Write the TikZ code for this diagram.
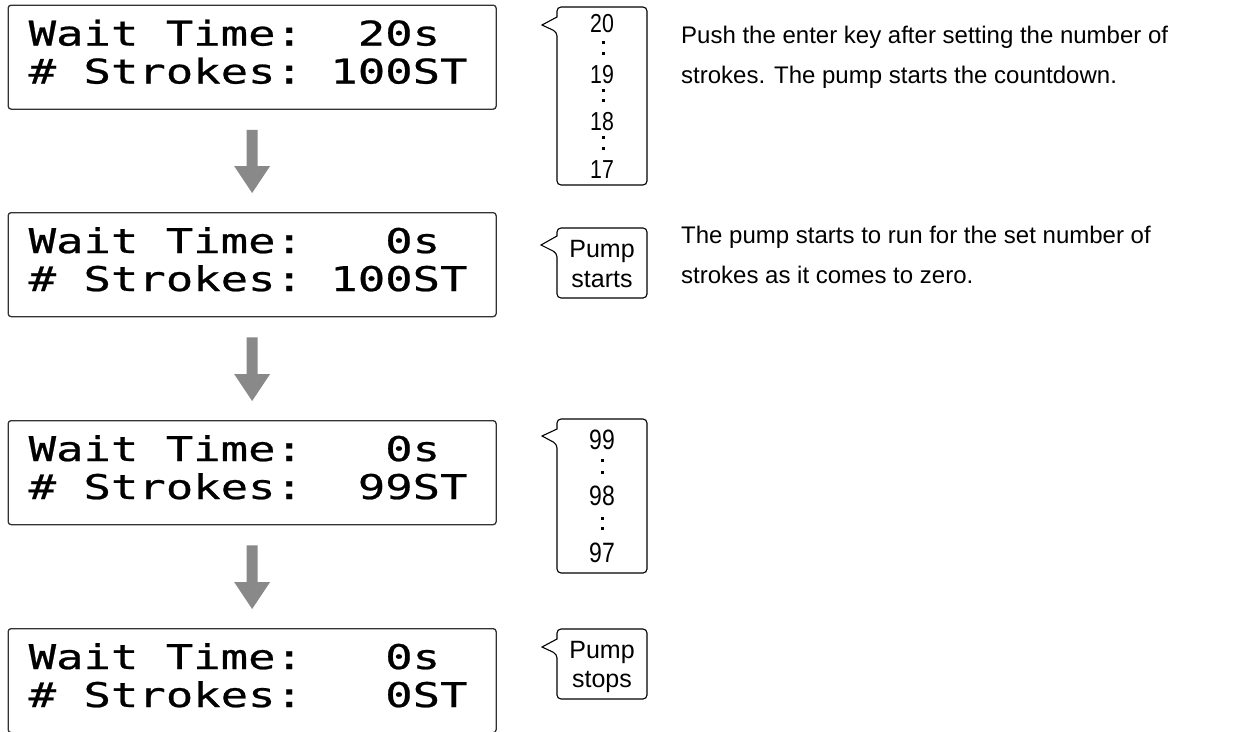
\documentclass[tikz,border=0pt]{standalone}
\usepackage{fontspec}
\setmainfont{Liberation Sans}
\newfontfamily\lcdfont[FakeStretch=1.34,FakeBold=0.7]{DejaVu Sans Mono}
\newfontfamily\narrowfont[FakeStretch=0.82]{Liberation Sans}
\usetikzlibrary{calc}
\definecolor{arrowgray}{RGB}{137,137,137}
\definecolor{lcdline}{RGB}{50,50,50}
\newcommand\flowarrow[2]{%
  \fill[arrowgray] ($(#1.south)+(-5.5,20)$) -- ($(#1.south)+(5.5,20)$)
    -- ($(#2.north)+(5.5,-46)$) -- ($(#2.north)+(18,-46)$)
    -- ($(#2.north)+(0,-19)$) -- ($(#2.north)+(-18,-46)$)
    -- ($(#2.north)+(-5.5,-46)$) -- cycle;}
\begin{document}
\begin{tikzpicture}[x=1pt,y=-1pt,
  lcdbox/.style={draw=lcdline, line width=1.3pt, rounded corners=3pt,
    minimum width=488pt, minimum height=104pt, inner sep=0pt, anchor=north west},
  lcdtext/.style={anchor=base west, inner sep=0pt,
    font=\lcdfont\fontsize{34}{34}\selectfont},
  callout/.style={draw=black, line width=1.1pt},
  ctext/.style={font=\fontsize{25}{30}\selectfont, inner sep=0pt, anchor=base},
  digitA/.style={font=\narrowfont\fontsize{26}{26}\selectfont, inner sep=0pt},
  digitC/.style={font=\narrowfont\fontsize{28}{28}\selectfont, inner sep=0pt},
  dotmark/.style={fill=black},
  note/.style={font=\fontsize{24}{40}\selectfont, inner sep=0pt, anchor=base west}
]
\fill[white] (0,0) rectangle (1242,731);
\useasboundingbox (0,0) rectangle (1242,731);
\clip (0,0) rectangle (1242,731);

% LCD displays
\node[lcdbox] (lcd1) at (7.5,4.5) {};
\node[lcdbox] (lcd2) at (7.5,212) {};
\node[lcdbox] (lcd3) at (7.5,420) {};
\node[lcdbox] (lcd4) at (7.5,628) {};

\node[lcdtext] (t1a) at ($(lcd1.north west)+(21,41)$) {Wait\ Time:\ \ 20s};
\node[lcdtext] (t1b) at ($(lcd1.north west)+(21,79)$) {\#\ Strokes:\ 100ST};
\node[lcdtext] (t2a) at ($(lcd2.north west)+(21,41)$) {Wait\ Time:\ \ \ 0s};
\node[lcdtext] (t2b) at ($(lcd2.north west)+(21,79)$) {\#\ Strokes:\ 100ST};
\node[lcdtext] (t3a) at ($(lcd3.north west)+(21,41)$) {Wait\ Time:\ \ \ 0s};
\node[lcdtext] (t3b) at ($(lcd3.north west)+(21,79)$) {\#\ Strokes:\ \ 99ST};
\node[lcdtext] (t4a) at ($(lcd4.north west)+(21,41)$) {Wait\ Time:\ \ \ 0s};
\node[lcdtext] (t4b) at ($(lcd4.north west)+(21,79)$) {\#\ Strokes:\ \ \ 0ST};

% arrows
\flowarrow{lcd1}{lcd2}
\flowarrow{lcd2}{lcd3}
\flowarrow{lcd3}{lcd4}

% callout A
\draw[callout] (557,17) [rounded corners=4pt] -- (557,7) -- (647,7) -- (647,185)
  -- (557,185) -- (557,32) [sharp corners] -- (542,25) -- cycle;
\node[digitA] (a20) at (602,24) {20};
\node[digitA] (a19) at (602,75) {19};
\node[digitA] (a18) at (602,122) {18};
\node[digitA] (a17) at (602,170) {17};
\foreach \y in {42,53,90,100,137,148} \fill[dotmark] (602,\y-1.5) rectangle (605,\y+1.5);

% callout B
\draw[callout] (557,236) [rounded corners=4pt] -- (557,228) -- (647,228) -- (647,298)
  -- (557,298) -- (557,253) [sharp corners] -- (541,245) -- cycle;
\node[ctext] (b1) at (602,257) {Pump};
\node[ctext] (b2) at (602,287) {starts};

% callout C
\draw[callout] (557,429) [rounded corners=4pt] -- (557,419) -- (647,419) -- (647,573)
  -- (557,573) -- (557,444) [sharp corners] -- (542,436) -- cycle;
\node[digitC] (c99) at (602,440) {99};
\node[digitC] (c98) at (602,496) {98};
\node[digitC] (c97) at (602,553) {97};
\foreach \y in {460,472,518,528} \fill[dotmark] (601,\y-1.5) rectangle (604,\y+1.5);

% callout D
\draw[callout] (557,639) [rounded corners=4pt] -- (557,629) -- (647,629) -- (647,699)
  -- (557,699) -- (557,654) [sharp corners] -- (542,647) -- cycle;
\node[ctext] (d1) at (602,658) {Pump};
\node[ctext] (d2) at (602,687) {stops};

% notes
\node[note] (n1) at (681,43) {Push the enter key after setting the number of};
\node[note] (n2) at (681,83) {strokes. The pump starts the countdown.};
\node[note] (n3) at (681,243) {The pump starts to run for the set number of};
\node[note] (n4) at (681,283) {strokes as it comes to zero.};
\end{tikzpicture}
\end{document}
